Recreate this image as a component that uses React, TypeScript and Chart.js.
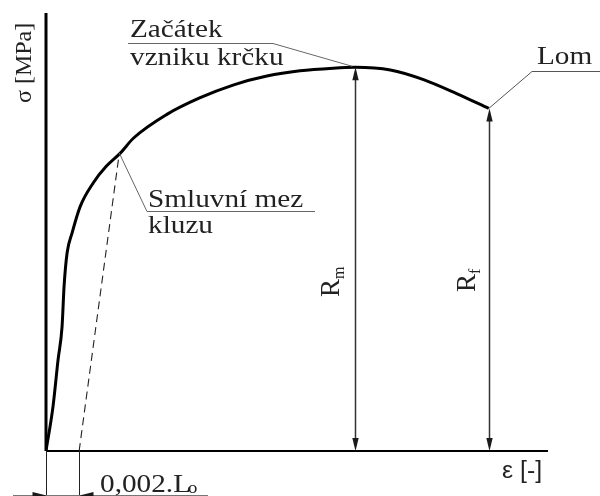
import React, { useEffect, useRef } from "react";
import { Chart, registerables } from "chart.js";

Chart.register(...registerables);

// Engineering stress–strain curve (schematic), strain in %, stress in MPa
const strain = [0, 0.7, 1.2, 1.6, 1.8, 2.1, 2.6, 3.4, 4.7, 6.0, 7.4, 8.7, 12.0, 15.3, 18.7, 22.0, 25.3, 28.6, 30.8, 34.3, 37.6, 40.9, 44.1];
const stress = [0, 51, 104, 142, 188, 226, 249, 279, 306, 325, 340, 357, 384, 403, 418, 428, 434, 437, 438, 435, 424, 408, 391];

// Offset (proof) line parallel to the elastic part
const offsetStart = [3.3, 0];
const proofPoint = [7.3, 340];

// Ultimate strength and fracture points
const ultimatePoint = [30.8, 438];
const fracturePoint = [44.1, 391];

const axisMax = { x: 50, y: 500 };

const labelTop = ["Začátek", "vzniku krčku"];
const labelYield = ["Smluvní mez", "kluzu"];
const labelFracture = "Lom";
const yAxisTitle = "σ [MPa]";
const xAxisTitle = "ε [-]";
const offsetText = ["0,002.L", "o"];

const SERIF = "Liberation Serif";
const SX = 1.17;

function text(ctx: CanvasRenderingContext2D, s: string, x: number, y: number, size: number, family = SERIF, sx = SX) {
  ctx.save();
  ctx.translate(x, y);
  ctx.scale(sx, 1);
  ctx.font = `${size}px ${family}`;
  ctx.fillText(s, 0, 0);
  ctx.restore();
}

// vertical text read from bottom to top; parts are [text, size, baselineShift]
function vtext(ctx: CanvasRenderingContext2D, parts: [string, number, number][], x: number, y: number) {
  ctx.save();
  ctx.translate(x, y);
  ctx.rotate(-Math.PI / 2);
  let cx = 0;
  for (const [s, size, dy] of parts) {
    ctx.font = `${size}px ${SERIF}`;
    ctx.fillText(s, cx, dy);
    cx += ctx.measureText(s).width;
  }
  ctx.restore();
}

function arrowHead(ctx: CanvasRenderingContext2D, tx: number, ty: number, dx: number, dy: number, len = 13, half = 3.2) {
  const px = -dy, py = dx;
  ctx.beginPath();
  ctx.moveTo(tx, ty);
  ctx.lineTo(tx - dx * len + px * half, ty - dy * len + py * half);
  ctx.lineTo(tx - dx * len - px * half, ty - dy * len - py * half);
  ctx.closePath();
  ctx.fill();
}

function line(ctx: CanvasRenderingContext2D, pts: number[][], color: string, width: number) {
  ctx.beginPath();
  ctx.strokeStyle = color;
  ctx.lineWidth = width;
  pts.forEach(([x, y], i) => (i ? ctx.lineTo(x, y) : ctx.moveTo(x, y)));
  ctx.stroke();
}

const diagramPlugin = {
  id: "diagram",
  beforeDatasetsDraw(chart: any) {
    const { ctx, chartArea: a } = chart;
    ctx.save();
    ctx.lineCap = "butt";
    // axes
    line(ctx, [[a.left, a.top], [a.left, a.bottom]], "#000", 3);
    line(ctx, [[a.left, a.bottom], [a.right, a.bottom]], "#000", 2.2);
    ctx.restore();
  },
  afterDraw(chart: any) {
    const { ctx, chartArea: a } = chart;
    const xs = chart.scales.x, ys = chart.scales.y;
    const px = (p: number[]) => [xs.getPixelForValue(p[0]), ys.getPixelForValue(p[1])];
    const [ux, uy] = px(ultimatePoint);
    const [fx, fy] = px(fracturePoint);
    const [yx, yy] = px(proofPoint);
    const [ox] = px(offsetStart);
    const x0 = a.left, y0 = a.bottom;

    ctx.save();
    ctx.fillStyle = "#1a1a1a";

    // Rm and Rf dimension lines
    for (const [x, yTop] of [[ux, uy], [fx, fy]]) {
      const xr = Math.round(x) + 0.5;
      line(ctx, [[xr, yTop + 10], [xr, y0 - 10]], "#333", 1.5);
      arrowHead(ctx, xr, yTop, 0, -1);
      arrowHead(ctx, xr, y0, 0, 1);
    }

    // leader lines
    line(ctx, [[128, 43.5], [273, 43.5], [ux - 3, uy - 1]], "#666", 1);
    line(ctx, [[yx, yy], [147, 211.5], [315, 211.5]], "#666", 1);
    line(ctx, [[fx, fy], [532, 71.5], [600, 71.5]], "#555", 1);

    // offset dimension at the base
    const bx0 = Math.round(x0) + 0.5, bx1 = Math.round(ox) + 0.5, by = 495.5;
    line(ctx, [[bx0, y0], [bx0, 496]], "#222", 1);
    line(ctx, [[bx1, y0], [bx1, 496]], "#222", 1);
    line(ctx, [[13, by], [208, by]], "#777", 1);
    arrowHead(ctx, bx0, by, 1, 0, 14, 3.5);
    arrowHead(ctx, bx1, by, -1, 0, 14, 3.5);

    // texts
    ctx.fillStyle = "#222";
    ctx.textBaseline = "alphabetic";
    text(ctx, labelTop[0], 130, 37, 25);
    text(ctx, labelTop[1], 130, 65, 25);
    text(ctx, labelYield[0], 148, 207, 25);
    text(ctx, labelYield[1], 148, 233, 25);
    text(ctx, labelFracture, 537, 64, 25);
    text(ctx, offsetText[0], 100, 492, 25);
    text(ctx, offsetText[1], 188, 493, 16);
    text(ctx, xAxisTitle, 502, 478, 23, "Liberation Sans", 1.08);

    vtext(ctx, [[yAxisTitle, 24, 0]], 31, 103);
    vtext(ctx, [["R", 27, 0], ["m", 16, 5]], ux - 16, 297);
    vtext(ctx, [["R", 27, 0], ["f", 16, 5]], fx - 14, 292);
    ctx.restore();
  },
};

export default function App() {
  const ref = useRef<HTMLCanvasElement>(null);

  useEffect(() => {
    const canvas = ref.current!;
    const chart = new Chart(canvas, {
      type: "scatter",
      data: {
        datasets: [
          {
            label: "σ–ε",
            data: strain.map((x, i) => ({ x, y: stress[i] })),
            showLine: true,
            borderColor: "#000",
            borderWidth: 3,
            pointRadius: 0,
            cubicInterpolationMode: "monotone",
          },
          {
            label: "offset",
            data: [
              { x: offsetStart[0], y: offsetStart[1] },
              { x: proofPoint[0], y: proofPoint[1] },
            ],
            showLine: true,
            borderColor: "#222",
            borderWidth: 1.1,
            borderDash: [8, 5],
            pointRadius: 0,
          },
        ],
      },
      options: {
        animation: false,
        responsive: false,
        devicePixelRatio: 1,
        layout: { padding: { left: 46, right: 52, top: 13, bottom: 45 } },
        plugins: { legend: { display: false }, tooltip: { enabled: false } },
        scales: {
          x: { type: "linear", min: 0, max: axisMax.x, display: false },
          y: { type: "linear", min: 0, max: axisMax.y, display: false },
        },
      },
      plugins: [diagramPlugin],
    });
    return () => chart.destroy();
  }, []);

  return (
    <div style={{ position: "absolute", left: 0, top: 0, width: 600, height: 496, background: "#fff" }}>
      <canvas ref={ref} width={600} height={496} />
    </div>
  );
}
